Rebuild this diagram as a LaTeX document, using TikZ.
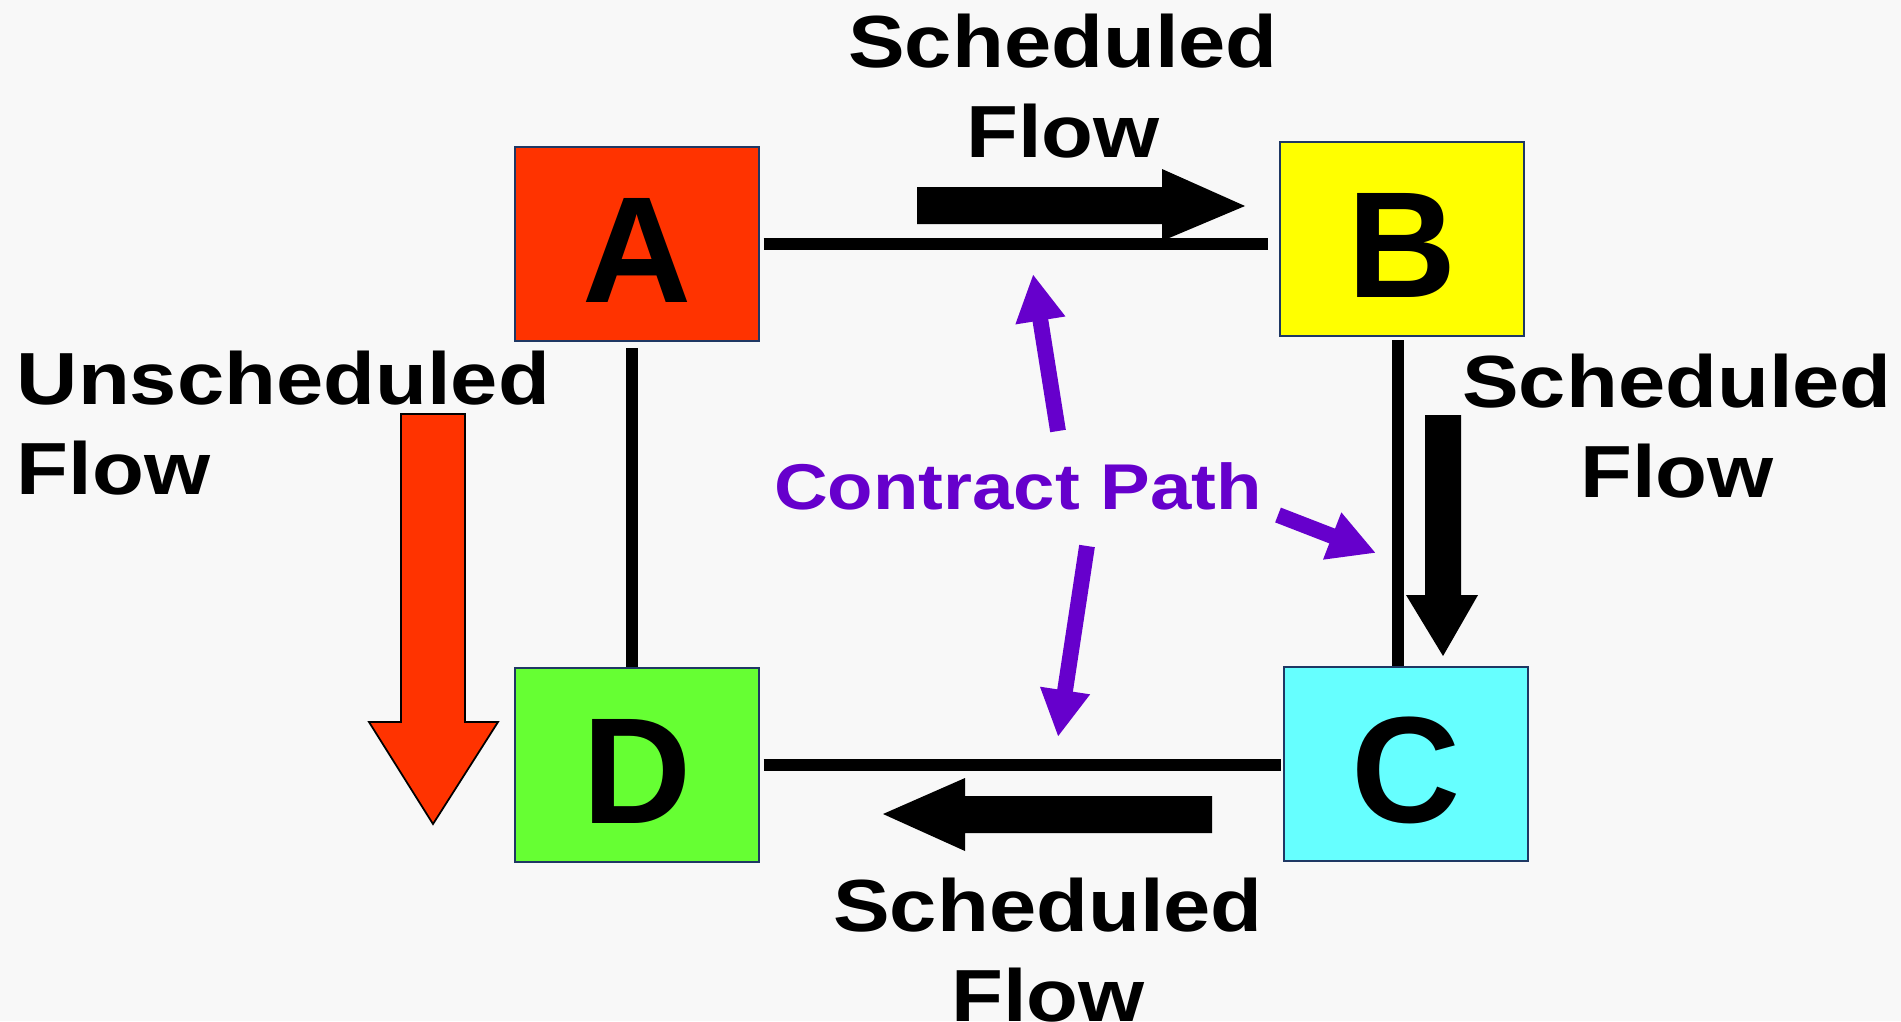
\documentclass[tikz,border=0pt]{standalone}
\usepackage{fontspec}
\setmainfont{Liberation Sans}
\newfontfamily\flowfont{Liberation Sans}[FakeStretch=1.15]
\usetikzlibrary{arrows.meta}
\definecolor{boxred}{RGB}{255,51,0}
\definecolor{boxyellow}{RGB}{255,255,0}
\definecolor{boxcyan}{RGB}{102,255,255}
\definecolor{boxgreen}{RGB}{102,255,51}
\definecolor{pathpurple}{RGB}{102,0,204}
\definecolor{boxedge}{RGB}{31,56,100}
\definecolor{paper}{RGB}{248,248,248}

\begin{document}
\begin{tikzpicture}[x=0.01cm,y=-0.01cm,
  station/.style={draw=boxedge,line width=0.6pt,minimum width=2.44cm,minimum height=1.94cm,
    inner sep=0pt,font=\fontsize{43}{43}\selectfont\bfseries,text height=1.16cm,text depth=0pt},
  link/.style={line width=3.4pt},
  flowlabel/.style={font=\flowfont\fontsize{21}{25.6}\selectfont\bfseries,inner sep=0pt,align=center},
  contract/.style={pathpurple,line width=4.5pt,-{Triangle[length=0.47cm,width=0.47cm]}}]
  % canvas
  \fill[paper] (0,0) rectangle (1901,1021);
  \useasboundingbox (0,0) rectangle (1901,1021);
  % stations
  \node[station,fill=boxred] (A) at (637,244) {A};
  \node[station,fill=boxyellow] (B) at (1402,239) {B};
  \node[station,fill=boxcyan] (C) at (1406,764) {C};
  \node[station,fill=boxgreen] (D) at (637,765) {D};
  % lines between stations
  \draw[link,shorten <=1pt,shorten >=3pt] (A.east) -- (A.east -| B.west);
  \draw[link,shorten <=1pt,shorten >=0.5pt] (D.east) -- (D.east -| C.west);
  \draw[link,shorten <=1.7pt] ([xshift=-1.4pt]A.south) -- ([xshift=-1.4pt]A.south |- D.north);
  \draw[link,shorten <=0.9pt] ([xshift=-1.1pt]B.south) -- ([xshift=-1.1pt]B.south |- C.north);
  % scheduled flow arrows
  \fill (917,187) -- (1162,187) -- (1162,169) -- (1245,206) -- (1162,241) -- (1162,224) -- (917,224) -- cycle;
  \fill (1425,415) -- (1461,415) -- (1461,595) -- (1478,595) -- (1443,656) -- (1406,595) -- (1425,595) -- cycle;
  \fill (1212,796) -- (965,796) -- (965,778) -- (883,814) -- (965,851) -- (965,833) -- (1212,833) -- cycle;
  % unscheduled flow arrow
  \filldraw[fill=boxred,draw=black,line width=0.5pt] (401,414) -- (465,414) -- (465,722) -- (498,722)
    -- (433,824) -- (369,722) -- (401,722) -- cycle;
  % flow labels
  \node[flowlabel,anchor=north] (fAB) at (1063,13) {Scheduled\\Flow};
  \node[flowlabel,anchor=north] (fBC) at (1677,353) {Scheduled\\Flow};
  \node[flowlabel,anchor=north] (fCD) at (1048,877) {Scheduled\\Flow};
  \node[flowlabel,anchor=north west,align=left] (fAD) at (16,350) {Unscheduled\\Flow};
  % contract path
  \node[font=\flowfont\fontsize{18.4}{18.4}\selectfont\bfseries,text=pathpurple,anchor=base] (cp) at (1018,509) {Contract Path};
  \coordinate (cpUp) at (1058,431);
  \coordinate (cpRight) at (1278,515);
  \coordinate (cpDown) at (1087,546);
  \coordinate (onAB) at (1033,274);
  \coordinate (onBC) at (1376,553);
  \coordinate (onCD) at (1058,737);
  \draw[contract] (cpUp) -- (onAB);
  \draw[contract] (cpRight) -- (onBC);
  \draw[contract] (cpDown) -- (onCD);
\end{tikzpicture}
\end{document}
